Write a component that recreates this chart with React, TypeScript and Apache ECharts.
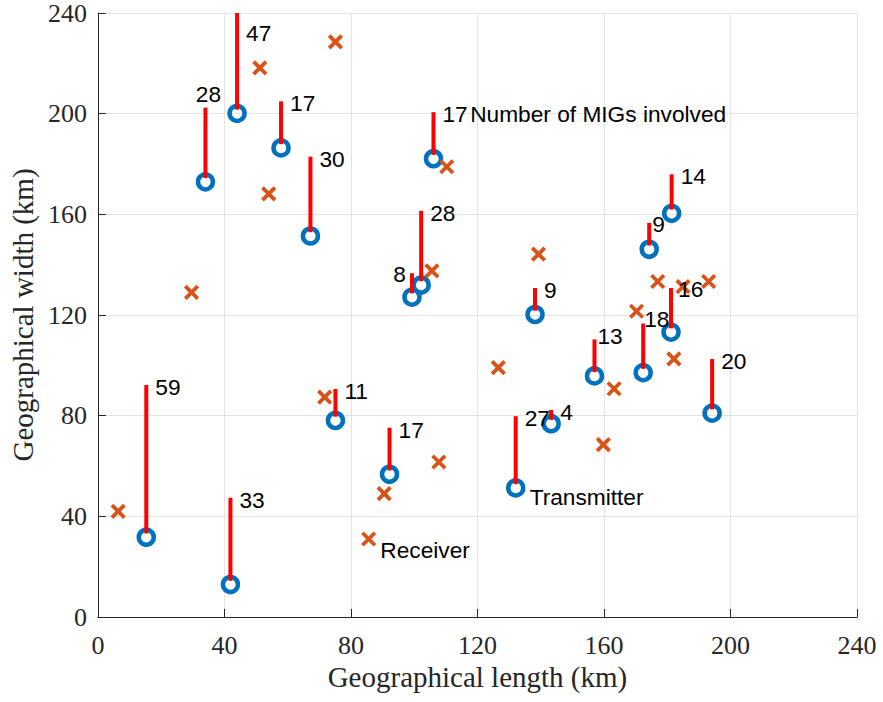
import React, { useEffect, useRef } from "react";
import * as echarts from "echarts";

// Transmitters (blue circles) and the number of MIGs involved (red stems)
const txLength = [34.0, 44.0, 57.9, 67.2, 106.1, 99.3, 102.2, 181.4, 174.3, 138.2, 181.2, 172.4, 157.0, 194.2, 143.3, 132.1, 15.3, 41.9, 75.1, 92.2];
const txWidth = [172.9, 200.1, 186.4, 151.4, 182.1, 127.1, 131.9, 160.4, 146.1, 120.2, 113.2, 97.1, 95.8, 81.0, 76.8, 51.3, 31.7, 12.9, 78.1, 56.7];
const migCount = [28, 47, 17, 30, 17, 8, 28, 14, 9, 9, 16, 18, 13, 20, 4, 27, 59, 33, 11, 17];

// Receivers (orange crosses)
const rxLength = [75.1, 51.2, 54.0, 29.6, 110.3, 105.6, 139.3, 177.0, 185.0, 193.1, 170.3, 126.6, 163.2, 182.1, 159.8, 6.4, 71.7, 107.8, 90.5, 85.6];
const rxWidth = [228.5, 218.2, 168.1, 129.0, 178.9, 137.5, 144.2, 133.3, 131.3, 133.3, 121.5, 99.1, 90.7, 102.6, 68.5, 42.0, 87.4, 61.6, 49.0, 31.0];

// Text annotations
const noteTexts = ["Number of MIGs involved", "Transmitter", "Receiver"];
const noteLength = [117.7, 136.5, 89.3];
const noteWidth = [200.0, 47.7, 26.8];

// Axes
const axisMin = 0;
const axisMax = 240;
const axisInterval = 40;
const xAxisName = "Geographical length (km)";
const yAxisName = "Geographical width (km)";

const STEM_BASE = 1.5;

// per-label placement tweaks (style only)
const labelTweaks: Record<number, any> = {
  0: { position: "top", distance: 2, offset: [3, 0] },
  1: { position: "right", distance: 9, offset: [0, 20] },
  5: { position: "left", distance: 6, offset: [0, 1] },
  8: { position: "right", distance: 3, offset: [0, 1] },
  10: { position: "right", distance: 7, offset: [0, 1] },
  11: { position: "right", distance: 1, offset: [0, -5] },
  12: { position: "right", distance: 3, offset: [0, -3] },
};

export default function App() {
  const ref = useRef<HTMLDivElement>(null);

  useEffect(() => {
    if (!ref.current) return;
    const chart = echarts.init(ref.current, undefined, { renderer: "svg" });

    const txData = txLength.map((x, i) => [x, txWidth[i]]);
    const rxData = rxLength.map((x, i) => [x, rxWidth[i]]);
    const stemData = txLength.map((x, i) => [x, txWidth[i], migCount[i]]);
    const labelData = txLength.map((x, i) => {
      const y = Math.min(txWidth[i] + migCount[i] + STEM_BASE, axisMax);
      const t = labelTweaks[i] || { position: "right", distance: 9, offset: [0, 2] };
      return {
        value: [x, y, migCount[i]],
        label: { position: t.position, distance: t.distance, offset: t.offset },
      };
    });
    const noteData = noteTexts.map((t, i) => ({ value: [noteLength[i], noteWidth[i]], name: t }));

    const textFont = {
      fontFamily: "Liberation Sans, Arial, sans-serif",
      fontSize: 22.7,
      color: "#000000",
      opacity: 1,
    };

    const axisCommon = {
      type: "value",
      min: axisMin,
      max: axisMax,
      interval: axisInterval,
      nameLocation: "middle",
      nameTextStyle: {
        fontFamily: "Liberation Serif, Times New Roman, serif",
        fontSize: 29,
        color: "#262626",
      },
      axisLine: { show: true, onZero: false, lineStyle: { color: "#262626", width: 1 } },
      axisTick: { show: true, inside: true, length: 8, lineStyle: { color: "#262626", width: 1 } },
      splitLine: { show: true, lineStyle: { color: "#e3e3e3", width: 1 } },
    };

    chart.setOption({
      animation: false,
      backgroundColor: "#ffffff",
      grid: { left: 97, right: 26, top: 13, bottom: 85, containLabel: false },
      xAxis: {
        ...axisCommon,
        name: xAxisName,
        nameGap: 41,
        axisLabel: {
          margin: 15,
          fontFamily: "Liberation Serif, Times New Roman, serif",
          fontSize: 26,
          color: "#262626",
        },
      },
      yAxis: {
        ...axisCommon,
        name: yAxisName,
        nameGap: 60,
        axisLabel: {
          margin: 11,
          fontFamily: "Liberation Serif, Times New Roman, serif",
          fontSize: 26,
          color: "#262626",
        },
      },
      series: [
        {
          type: "scatter",
          name: "Transmitter",
          data: txData,
          symbol: "circle",
          symbolSize: 15,
          silent: true,
          itemStyle: { color: "rgba(255,255,255,0)", borderColor: "#0072BD", borderWidth: 4.5, opacity: 1 },
          z: 2,
        },
        {
          type: "scatter",
          name: "Receiver",
          data: rxData,
          symbol: "path://M0,0L10,10M10,0L0,10",
          symbolSize: 12.5,
          silent: true,
          itemStyle: { color: "rgba(0,0,0,0)", borderColor: "#D95319", borderWidth: 3.8, opacity: 1 },
          z: 3,
        },
        {
          type: "custom",
          name: "MIGs",
          data: stemData,
          silent: true,
          z: 4,
          renderItem: (params: any, api: any) => {
            const x = api.value(0);
            const y = api.value(1);
            const n = api.value(2);
            const p0 = api.coord([x, y + STEM_BASE]);
            const p1 = api.coord([x, y + n + STEM_BASE]);
            const top = params.coordSys.y;
            return {
              type: "line",
              shape: { x1: p0[0], y1: p0[1], x2: p1[0], y2: Math.max(p1[1], top) },
              style: { stroke: "#FF0000", lineWidth: 4 },
            };
          },
        },
        {
          type: "scatter",
          name: "MIG labels",
          data: labelData,
          symbolSize: 0,
          silent: true,
          z: 5,
          itemStyle: { opacity: 1 },
          label: {
            show: true,
            ...textFont,
            formatter: (p: any) => String(p.value[2]),
          },
        },
        {
          type: "scatter",
          name: "Notes",
          data: noteData,
          symbolSize: 0,
          silent: true,
          z: 5,
          itemStyle: { opacity: 1 },
          label: {
            show: true,
            position: "right",
            distance: 0,
            ...textFont,
            formatter: (p: any) => p.name,
          },
        },
      ],
    });

    return () => chart.dispose();
  }, []);

  return (
    <div
      ref={ref}
      style={{ position: "fixed", left: 0, top: 0, width: 883, height: 702, background: "#fff" }}
    />
  );
}
